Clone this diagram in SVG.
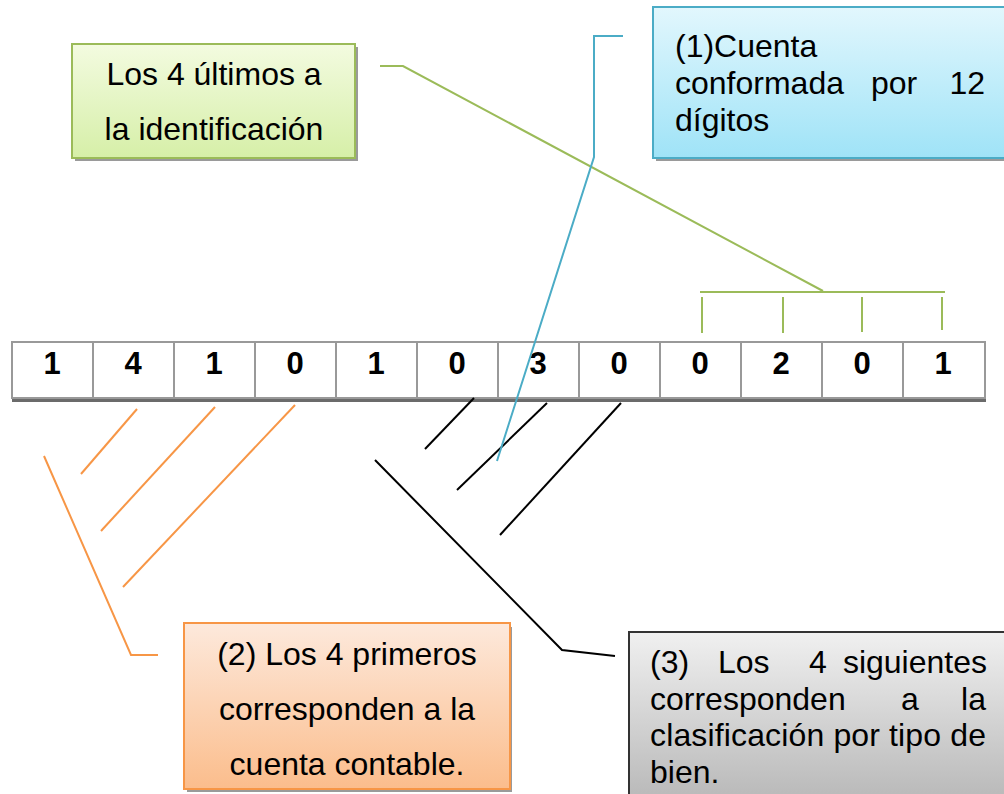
<svg xmlns="http://www.w3.org/2000/svg" width="1004" height="794" viewBox="0 0 1004 794">
<defs>
<linearGradient id="gGreen" x1="0" y1="0" x2="0" y2="1"><stop offset="0" stop-color="#f3fbe0"/><stop offset="1" stop-color="#d6efa8"/></linearGradient>
<linearGradient id="gBlue" x1="0" y1="0" x2="0" y2="1"><stop offset="0" stop-color="#e2f7fd"/><stop offset="1" stop-color="#9fe3f7"/></linearGradient>
<linearGradient id="gOrange" x1="0" y1="0" x2="0" y2="1"><stop offset="0" stop-color="#fde9dc"/><stop offset="1" stop-color="#fbbd8c"/></linearGradient>
<linearGradient id="gGray" x1="0" y1="0" x2="0" y2="1"><stop offset="0" stop-color="#f0f0f0"/><stop offset="1" stop-color="#b8b8b8"/></linearGradient>
</defs>
<style>
text{font-family:"Liberation Sans",Arial,sans-serif;font-size:32px;fill:#000}
.c{text-anchor:middle}
.e{text-anchor:end}
.d{font-weight:bold;text-anchor:middle;font-size:31px}
.cell{fill:#fff;stroke:#999;stroke-width:2}
.sh{fill:#9a9a9a}
.lg{stroke:#9bbb59;stroke-width:2;fill:none}
.lb{stroke:#4bacc6;stroke-width:2;fill:none}
.lo{stroke:#f79646;stroke-width:2;fill:none}
.lk{stroke:#000;stroke-width:2;fill:none}
</style>
<rect width="1004" height="794" fill="#fff"/>

<g id="cells">
<rect x="12" y="398" width="974" height="4" fill="#6b6b6b"/>
<rect class="cell" x="12" y="342" width="81" height="56"/>
<rect class="cell" x="93" y="342" width="81" height="56"/>
<rect class="cell" x="174" y="342" width="81" height="56"/>
<rect class="cell" x="255" y="342" width="81" height="56"/>
<rect class="cell" x="336" y="342" width="81" height="56"/>
<rect class="cell" x="417" y="342" width="81" height="56"/>
<rect class="cell" x="498" y="342" width="81" height="56"/>
<rect class="cell" x="579" y="342" width="81" height="56"/>
<rect class="cell" x="660" y="342" width="81" height="56"/>
<rect class="cell" x="741" y="342" width="81" height="56"/>
<rect class="cell" x="822" y="342" width="81" height="56"/>
<rect class="cell" x="903" y="342" width="82" height="56"/>
<text class="d" x="52" y="374">1</text>
<text class="d" x="133" y="374">4</text>
<text class="d" x="214" y="374">1</text>
<text class="d" x="295" y="374">0</text>
<text class="d" x="376" y="374">1</text>
<text class="d" x="457" y="374">0</text>
<text class="d" x="538" y="374">3</text>
<text class="d" x="619" y="374">0</text>
<text class="d" x="700" y="374">0</text>
<text class="d" x="781" y="374">2</text>
<text class="d" x="862" y="374">0</text>
<text class="d" x="943" y="374">1</text>
</g>

<g id="connectors">
<polyline class="lg" points="380,66 403,66 823,291"/>
<line class="lg" x1="700" y1="292" x2="945" y2="292"/>
<line class="lg" x1="702" y1="297" x2="702" y2="333"/>
<line class="lg" x1="783" y1="297" x2="783" y2="333"/>
<line class="lg" x1="862" y1="297" x2="862" y2="332"/>
<line class="lg" x1="942" y1="297" x2="942" y2="330"/>
<line class="lo" x1="137" y1="409" x2="81" y2="474"/>
<line class="lo" x1="215" y1="407" x2="101" y2="531"/>
<line class="lo" x1="295" y1="405" x2="123" y2="587"/>
<polyline class="lo" points="44,456 131,655 158,655"/>
<line class="lk" x1="474" y1="398" x2="425" y2="449"/>
<line class="lk" x1="547" y1="403" x2="457" y2="490"/>
<line class="lk" x1="621" y1="403" x2="500" y2="535"/>
<polyline class="lk" points="375,460 562,650 615,656"/>
<polyline class="lb" points="623,36 594,36 594,157 497,461"/>
</g>

<g id="green-box">
<rect class="sh" x="75" y="47" width="283" height="114"/>
<rect x="72" y="44" width="283" height="114" fill="url(#gGreen)" stroke="#9bbb59" stroke-width="2"/>
<text class="c" x="214" y="85">Los 4 últimos a</text>
<text class="c" x="214" y="140">la identificación</text>
</g>

<g id="blue-box">
<rect class="sh" x="656" y="10" width="360" height="151"/>
<rect x="653" y="7" width="360" height="151" fill="url(#gBlue)" stroke="#4bacc6" stroke-width="2"/>
<text x="675" y="57">(1)Cuenta</text>
<text x="675" y="94">conformada</text>
<text x="871" y="94">por</text>
<text class="e" x="985" y="94">12</text>
<text x="675" y="131">dígitos</text>
</g>

<g id="orange-box">
<rect class="sh" x="187" y="627" width="325" height="165"/>
<rect x="184" y="623" width="326" height="166" fill="url(#gOrange)" stroke="#f79646" stroke-width="2"/>
<text class="c" x="347" y="665">(2) Los 4 primeros</text>
<text class="c" x="347" y="720">corresponden a la</text>
<text class="c" x="347" y="775">cuenta contable.</text>
</g>

<g id="gray-box">
<rect x="629" y="632" width="390" height="170" fill="url(#gGray)" stroke="#333" stroke-width="2"/>
<text x="650" y="673">(3)</text>
<text x="718" y="673">Los</text>
<text x="809" y="673">4</text>
<text class="e" x="987" y="673">siguientes</text>
<text x="650" y="710">corresponden</text>
<text x="901" y="710">a</text>
<text class="e" x="986" y="710">la</text>
<text x="650" y="746" textLength="336">clasificación por tipo de</text>
<text x="650" y="783">bien.</text>
</g>
</svg>
